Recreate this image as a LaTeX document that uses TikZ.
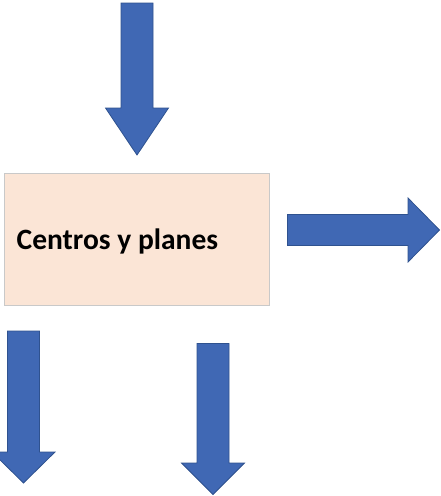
\documentclass[tikz,border=0pt]{standalone}
\usepackage{fontspec}
\setmainfont{Carlito}
\definecolor{arrowblue}{HTML}{4068B4}
\definecolor{arrowedge}{HTML}{2F528F}
\definecolor{peach}{HTML}{FBE5D6}
\definecolor{boxedge}{HTML}{C9C9C9}

\begin{document}
\begin{tikzpicture}[x=1pt,y=-1pt,
        blockarrow/.style={fill=arrowblue,draw=arrowedge,line width=0.8pt,line join=miter},
        centrebox/.style={fill=peach,draw=boxedge,line width=1pt}]
            \useasboundingbox (0,0) rectangle (441,496);
            \draw[centrebox] (4.5,173.5) rectangle (269.5,305.5);
            \node[anchor=base west,inner sep=0pt,font=\fontsize{29.5}{34}\selectfont\bfseries] (centros) at (16.5,249) {Centros y planes};

            % entrada arriba
            \filldraw[blockarrow] (121,3) -- (153,3) -- (153,108) -- (168.5,108) -- (137,155)
                -- (105.5,108) -- (121,108) -- cycle;
            % salida derecha
            \filldraw[blockarrow] (287.5,214.5) -- (408,214.5) -- (408,198) -- (439.5,230)
                -- (408,262) -- (408,245.5) -- (287.5,245.5) -- cycle;
            % salidas abajo
            \filldraw[blockarrow] (7.5,331) -- (39.5,331) -- (39.5,452) -- (55,452) -- (23.5,483)
                -- (-8,452) -- (7.5,452) -- cycle;
            \filldraw[blockarrow] (197,343.5) -- (229,343.5) -- (229,463) -- (244.5,463) -- (213,494.5)
                -- (181.5,463) -- (197,463) -- cycle;
        \end{tikzpicture}
\end{document}
